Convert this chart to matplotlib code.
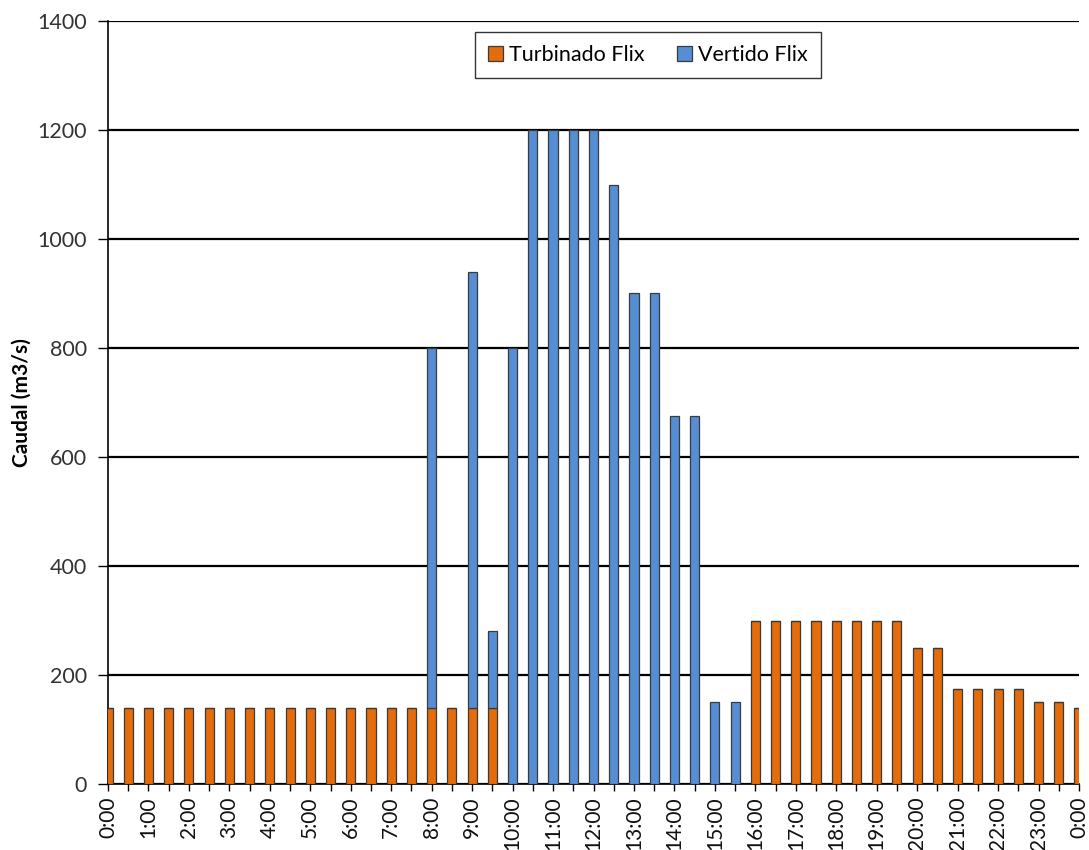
import matplotlib
matplotlib.use("Agg")
import matplotlib.pyplot as plt
import numpy as np

# half-hour slots 0:00 ... 24:00
slots = np.arange(49)
hour_labels = ["%d:00" % (h % 24) for h in range(25)]

turbinado = [140] * 16 + [140, 140, 140, 140] + [0] * 12 + \
    [300] * 8 + [250, 250] + [175] * 4 + [150, 150] + [140]
vertido = [0] * 16 + [660, 0, 800, 140, 800, 1200, 1200, 1200, 1200,
                      1100, 900, 900, 675, 675, 150, 150] + [0] * 17

plt.rcParams['font.family'] = ['Lato', 'DejaVu Sans']

fig = plt.figure(figsize=(10.89, 8.5), dpi=100)
ax = fig.add_axes([108 / 1089, 1 - 784 / 850, 971 / 1089, 763 / 850])

orange = "#E46C0A"
blue = "#558ED5"
w = 0.45
ax.bar(slots, turbinado, width=w, color=orange, edgecolor="#3a3a3a",
       linewidth=0.9, label="Turbinado Flix", zorder=3)
ax.bar(slots, vertido, width=w, bottom=turbinado, color=blue,
       edgecolor="#3a3a3a", linewidth=0.9, label="Vertido Flix", zorder=3)

ax.set_xlim(0, 48)
ax.set_ylim(0, 1400)
ax.set_yticks(np.arange(0, 1401, 200))
ax.set_xticks(slots[::2])
ax.set_xticklabels(hour_labels, rotation=90)
ax.set_xticks(slots, minor=True)
ax.tick_params(axis='x', which='both', direction='out', length=5,
               width=1, labelsize=15, pad=4, colors="black")
ax.tick_params(axis='y', direction='out', length=7, width=1,
               labelsize=15.5, labelcolor="#333333", pad=8)
for t in ax.get_xticklabels():
    t.set_color("#111111")

ax.yaxis.grid(True, color="black", linewidth=1.6, zorder=0)
ax.set_axisbelow(True)
for s in ["top", "right"]:
    ax.spines[s].set_visible(False)
ax.spines["left"].set_linewidth(1.2)
ax.spines["bottom"].set_linewidth(1.2)

ax.set_ylabel("Caudal (m3/s)", fontsize=15, fontweight="bold")
ax.yaxis.set_label_coords(-0.079, 0.5)

leg = ax.legend(loc="upper center", bbox_to_anchor=(0.556, 0.985), ncol=2,
                fontsize=15.5, frameon=True, fancybox=False,
                handlelength=0.7, handleheight=0.7, handletextpad=0.3,
                columnspacing=1.5, borderpad=0.6, borderaxespad=0)
leg.get_frame().set_edgecolor("#333333")
leg.get_frame().set_linewidth(1.0)
leg.get_frame().set_alpha(1)

fig.savefig("out.png", dpi=100)
